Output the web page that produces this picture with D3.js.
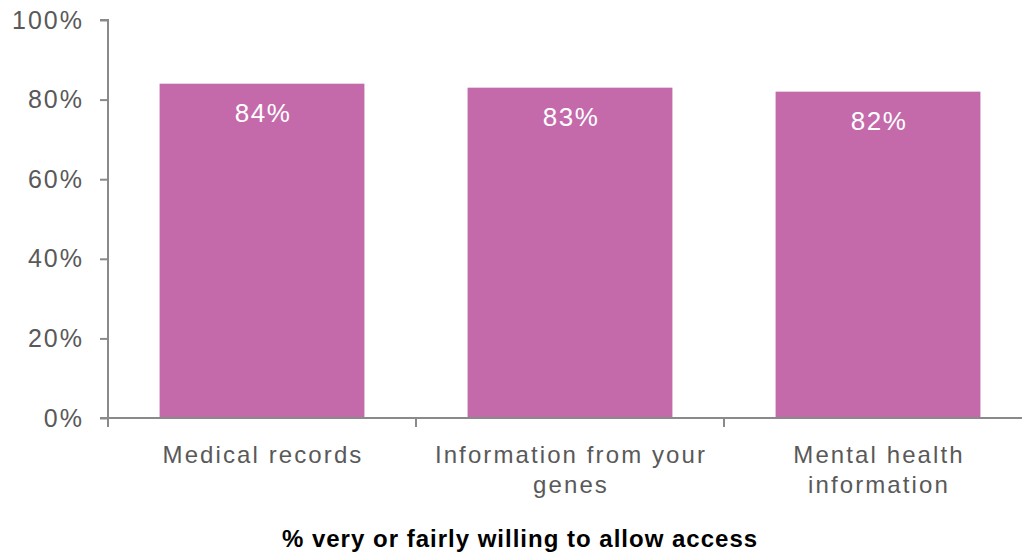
<!DOCTYPE html>
<html>
<head>
<meta charset="utf-8">
<script src="https://cdn.jsdelivr.net/npm/d3@7"></script>
<style>
  html, body { margin: 0; padding: 0; background: #fff; }
  svg { display: block; }
</style>
</head>
<body>
<svg id="chart" width="1022" height="554"></svg>
<script>
// Share of people very or fairly willing to allow access, by type of data
const categories = ["Medical records", "Information from your genes", "Mental health information"];
const categoryLines = [["Medical records"], ["Information from your", "genes"], ["Mental health", "information"]];
const values = [84, 83, 82];
const yTicks = [0, 20, 40, 60, 80, 100];
const axisTitle = "% very or fairly willing to allow access";

const svg = d3.select("#chart");
const plotLeft = 108, plotRight = 1032, plotTop = 20, plotBottom = 418;
const barColor = "#C46AAB";
const axisColor = "#8a8a8a";
const textColor = "#595959";
const font = "'Liberation Sans', Arial, Helvetica, sans-serif";

const x = d3.scaleBand()
  .domain(categories)
  .range([plotLeft, plotRight])
  .paddingInner(0.335)
  .paddingOuter(0.1675);

const y = d3.scaleLinear().domain([0, 100]).range([plotBottom, plotTop]);

// bars
svg.append("g").selectAll("rect")
  .data(categories)
  .join("rect")
  .attr("x", d => x(d))
  .attr("width", x.bandwidth())
  .attr("y", (d, i) => y(values[i]))
  .attr("height", (d, i) => y(0) - y(values[i]))
  .attr("fill", barColor);

// value labels inside bars
svg.append("g").selectAll("text")
  .data(categories)
  .join("text")
  .attr("x", d => x(d) + x.bandwidth() / 2 + 1)
  .attr("y", (d, i) => y(values[i]) + 38)
  .attr("text-anchor", "middle")
  .attr("fill", "#fff")
  .style("font-family", font)
  .style("font-size", "26px")
  .style("letter-spacing", "1.5px")
  .text((d, i) => values[i] + "%");

// y axis
const yAxis = svg.append("g")
  .attr("transform", `translate(${plotLeft},0)`)
  .call(d3.axisLeft(y).tickValues(yTicks).tickFormat(d => d + "%").tickSize(8).tickPadding(16));
yAxis.select(".domain").attr("stroke", axisColor).attr("stroke-width", 2)
  .attr("d", `M-8,${plotTop}H0V${plotBottom}`);
yAxis.selectAll(".tick line").attr("stroke", axisColor).attr("stroke-width", 2);
yAxis.selectAll(".tick text")
  .attr("fill", textColor)
  .style("font-family", font)
  .style("font-size", "25px")
  .style("letter-spacing", "2px");

// x axis baseline with category dividers
const xAxis = svg.append("g");
xAxis.append("line")
  .attr("x1", plotLeft - 8).attr("x2", 1022)
  .attr("y1", y(0)).attr("y2", y(0))
  .attr("stroke", axisColor).attr("stroke-width", 2);
const dividers = d3.range(categories.length + 1).map(i => plotLeft + i * x.step());
xAxis.selectAll("line.div")
  .data(dividers)
  .join("line")
  .attr("class", "div")
  .attr("x1", d => d).attr("x2", d => d)
  .attr("y1", y(0)).attr("y2", y(0) + 9)
  .attr("stroke", axisColor).attr("stroke-width", 2);

// category labels
const catG = svg.append("g").selectAll("text")
  .data(categories)
  .join("text")
  .attr("x", d => x(d) + x.bandwidth() / 2 + 1)
  .attr("y", 463)
  .attr("text-anchor", "middle")
  .attr("fill", textColor)
  .style("font-family", font)
  .style("font-size", "24px")
  .style("letter-spacing", "2.1px");
catG.selectAll("tspan")
  .data((d, i) => categoryLines[i])
  .join("tspan")
  .attr("x", function () { return this.parentNode.getAttribute("x"); })
  .attr("dy", (d, i) => i === 0 ? 0 : 30)
  .text(d => d);

// axis title
svg.append("text")
  .attr("x", 520)
  .attr("y", 547)
  .attr("text-anchor", "middle")
  .attr("fill", "#000")
  .style("font-family", font)
  .style("font-size", "24px")
  .style("font-weight", "bold")
  .style("letter-spacing", "1px")
  .text(axisTitle);
</script>
</body>
</html>
